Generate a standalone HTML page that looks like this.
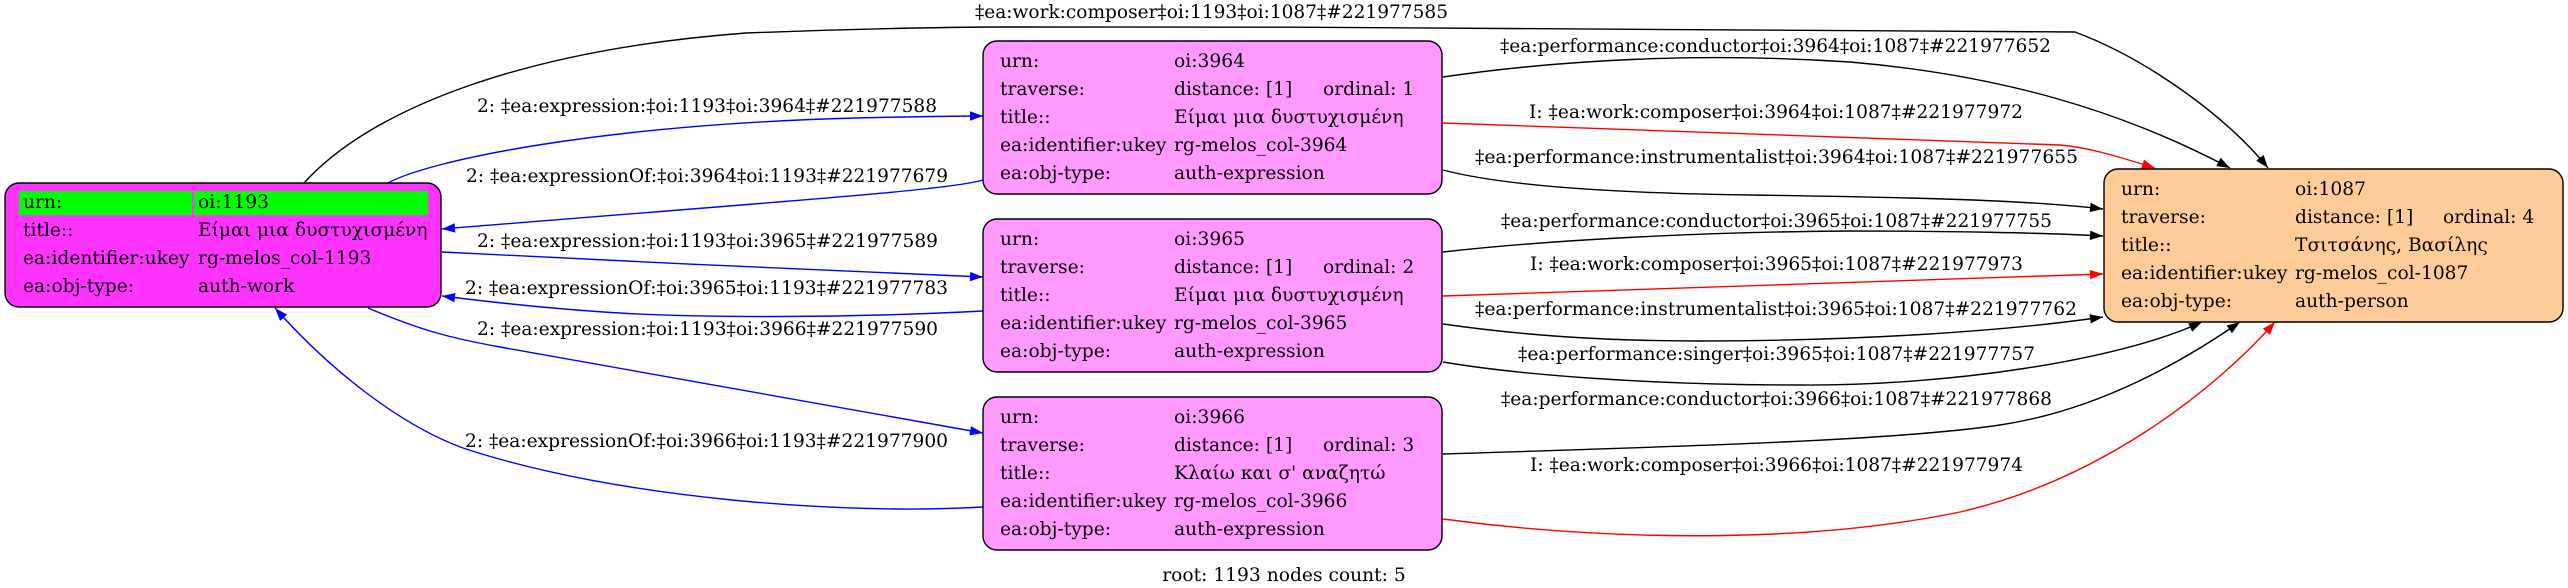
<!DOCTYPE html>
<html>
<head>
<meta charset="utf-8">
<style>
  html,body{margin:0;padding:0;background:#fff;}
  svg{display:block;}
  text{font-family:"DejaVu Serif","Liberation Serif",serif;font-size:18.67px;fill:#000;}
</style>
</head>
<body>
<svg width="2568" height="588" viewBox="0 0 2568 588" xmlns="http://www.w3.org/2000/svg">
  <defs>
    <marker id="ak" markerUnits="userSpaceOnUse" markerWidth="14" markerHeight="10" viewBox="0 0 13 10" refX="13" refY="5" orient="auto">
      <path d="M0,0.3 L13,5 L0,9.7 z" fill="#000"/>
    </marker>
    <marker id="ab" markerUnits="userSpaceOnUse" markerWidth="14" markerHeight="10" viewBox="0 0 13 10" refX="13" refY="5" orient="auto">
      <path d="M0,0.3 L13,5 L0,9.7 z" fill="#0000ff"/>
    </marker>
    <marker id="ar" markerUnits="userSpaceOnUse" markerWidth="14" markerHeight="10" viewBox="0 0 13 10" refX="13" refY="5" orient="auto">
      <path d="M0,0.3 L13,5 L0,9.7 z" fill="#ff0000"/>
    </marker>
  </defs>
  <rect width="2568" height="588" fill="#fff"/>

  <!-- Edges -->
  <g fill="none" stroke-width="1.4">
    <!-- composer 1193 -> 1087 -->
    <path d="M304,183 C370,110 520,50 746,33 C850,29 950,27 1000,27 C1400,27 1900,28 2075,32 C2150,60 2230,120 2268,168" stroke="#000" marker-end="url(#ak)"/>
    <!-- expression 1193 -> 3964 -->
    <path d="M388,183 C430,160 600,125 855,118 C900,117 950,116 983,116" stroke="#0000ff" marker-end="url(#ab)"/>
    <!-- expressionOf 3964 -> 1193 -->
    <path d="M983,180 C950,190 800,200 442,229" stroke="#0000ff" marker-end="url(#ab)"/>
    <!-- expression 1193 -> 3965 -->
    <path d="M442,252 C600,260 850,272 983,277" stroke="#0000ff" marker-end="url(#ab)"/>
    <!-- expressionOf 3965 -> 1193 -->
    <path d="M983,311 C850,318 700,318 620,313 C550,309 490,302 442,296" stroke="#0000ff" marker-end="url(#ab)"/>
    <!-- expression 1193 -> 3966 -->
    <path d="M368,308 C420,330 450,338 500,347 L983,433" stroke="#0000ff" marker-end="url(#ab)"/>
    <!-- expressionOf 3966 -> 1193 -->
    <path d="M983,507 C850,515 620,500 463,448 C400,425 330,370 275,308" stroke="#0000ff" marker-end="url(#ab)"/>

    <!-- 3964 -> 1087 -->
    <path d="M1443,77 C1560,60 1700,52 1850,62 C2000,75 2120,110 2230,168" stroke="#000" marker-end="url(#ak)"/>
    <path d="M1443,123 L2060,145 C2085,147 2110,154 2155,168" stroke="#ff0000" marker-end="url(#ar)"/>
    <path d="M1443,170 C1500,185 1600,193 1750,195 C1900,197 2030,200 2103,209" stroke="#000" marker-end="url(#ak)"/>
    <!-- 3965 -> 1087 -->
    <path d="M1443,252 C1550,240 1700,232 1850,231 C1950,231 2050,233 2103,236" stroke="#000" marker-end="url(#ak)"/>
    <path d="M1443,296 C1700,289 1950,280 2103,274" stroke="#ff0000" marker-end="url(#ar)"/>
    <path d="M1443,324 C1520,335 1600,341 1700,341 C1850,341 2000,332 2103,317" stroke="#000" marker-end="url(#ak)"/>
    <path d="M1443,362 C1520,375 1650,385 1800,385 C1950,386 2120,360 2202,322" stroke="#000" marker-end="url(#ak)"/>
    <!-- 3966 -> 1087 -->
    <path d="M1443,454 C1700,446 1900,440 2000,425 C2100,410 2185,360 2240,322" stroke="#000" marker-end="url(#ak)"/>
    <path d="M1443,519 C1600,540 1800,545 1960,512 C2100,480 2215,390 2275,322" stroke="#ff0000" marker-end="url(#ar)"/>
  </g>

  <!-- Edge labels -->
  <g lengthAdjust="spacingAndGlyphs">
    <text x="975" y="18" textLength="473" lengthAdjust="spacingAndGlyphs">‡ea:work:composer‡oi:1193‡oi:1087‡#221977585</text>
    <text x="477" y="112" textLength="460" lengthAdjust="spacingAndGlyphs">2: ‡ea:expression:‡oi:1193‡oi:3964‡#221977588</text>
    <text x="466" y="182" textLength="482" lengthAdjust="spacingAndGlyphs">2: ‡ea:expressionOf:‡oi:3964‡oi:1193‡#221977679</text>
    <text x="477" y="247" textLength="461" lengthAdjust="spacingAndGlyphs">2: ‡ea:expression:‡oi:1193‡oi:3965‡#221977589</text>
    <text x="465" y="294" textLength="483" lengthAdjust="spacingAndGlyphs">2: ‡ea:expressionOf:‡oi:3965‡oi:1193‡#221977783</text>
    <text x="477" y="335" textLength="461" lengthAdjust="spacingAndGlyphs">2: ‡ea:expression:‡oi:1193‡oi:3966‡#221977590</text>
    <text x="465" y="447" textLength="483" lengthAdjust="spacingAndGlyphs">2: ‡ea:expressionOf:‡oi:3966‡oi:1193‡#221977900</text>

    <text x="1500" y="52" textLength="551" lengthAdjust="spacingAndGlyphs">‡ea:performance:conductor‡oi:3964‡oi:1087‡#221977652</text>
    <text x="1529" y="118" textLength="494" lengthAdjust="spacingAndGlyphs">I: ‡ea:work:composer‡oi:3964‡oi:1087‡#221977972</text>
    <text x="1475" y="163" textLength="603" lengthAdjust="spacingAndGlyphs">‡ea:performance:instrumentalist‡oi:3964‡oi:1087‡#221977655</text>
    <text x="1501" y="227" textLength="551" lengthAdjust="spacingAndGlyphs">‡ea:performance:conductor‡oi:3965‡oi:1087‡#221977755</text>
    <text x="1530" y="270" textLength="493" lengthAdjust="spacingAndGlyphs">I: ‡ea:work:composer‡oi:3965‡oi:1087‡#221977973</text>
    <text x="1475" y="315" textLength="602" lengthAdjust="spacingAndGlyphs">‡ea:performance:instrumentalist‡oi:3965‡oi:1087‡#221977762</text>
    <text x="1518" y="360" textLength="517" lengthAdjust="spacingAndGlyphs">‡ea:performance:singer‡oi:3965‡oi:1087‡#221977757</text>
    <text x="1501" y="405" textLength="551" lengthAdjust="spacingAndGlyphs">‡ea:performance:conductor‡oi:3966‡oi:1087‡#221977868</text>
    <text x="1530" y="471" textLength="493" lengthAdjust="spacingAndGlyphs">I: ‡ea:work:composer‡oi:3966‡oi:1087‡#221977974</text>
  </g>

  <!-- Main node 1193 -->
  <rect x="5" y="183" width="436" height="124" rx="14" ry="14" fill="#ff33ff" stroke="#000" stroke-width="1.4"/>
  <rect x="19" y="191" width="173" height="24" fill="#00ff00"/>
  <rect x="194" y="191" width="234" height="24" fill="#00ff00"/>
  <text x="23" y="208">urn:</text><text x="198" y="208">oi:1193</text>
  <text x="23" y="236">title::</text><text x="198" y="236">Είμαι μια δυστυχισμένη</text>
  <text x="23" y="264">ea:identifier:ukey</text><text x="198" y="264">rg-melos_col-1193</text>
  <text x="23" y="292">ea:obj-type:</text><text x="198" y="292">auth-work</text>

  <!-- Node 3964 -->
  <rect x="983" y="41" width="459" height="153" rx="14" ry="14" fill="#ff99ff" stroke="#000" stroke-width="1.4"/>
  <text x="1000" y="67">urn:</text><text x="1174" y="67">oi:3964</text>
  <text x="1000" y="95">traverse:</text><text x="1174" y="95">distance: [1]</text><text x="1323" y="95">ordinal: 1</text>
  <text x="1000" y="123">title::</text><text x="1174" y="123">Είμαι μια δυστυχισμένη</text>
  <text x="1000" y="151">ea:identifier:ukey</text><text x="1174" y="151">rg-melos_col-3964</text>
  <text x="1000" y="179">ea:obj-type:</text><text x="1174" y="179">auth-expression</text>

  <!-- Node 3965 -->
  <rect x="983" y="219" width="459" height="153" rx="14" ry="14" fill="#ff99ff" stroke="#000" stroke-width="1.4"/>
  <text x="1000" y="245">urn:</text><text x="1174" y="245">oi:3965</text>
  <text x="1000" y="273">traverse:</text><text x="1174" y="273">distance: [1]</text><text x="1323" y="273">ordinal: 2</text>
  <text x="1000" y="301">title::</text><text x="1174" y="301">Είμαι μια δυστυχισμένη</text>
  <text x="1000" y="329">ea:identifier:ukey</text><text x="1174" y="329">rg-melos_col-3965</text>
  <text x="1000" y="357">ea:obj-type:</text><text x="1174" y="357">auth-expression</text>

  <!-- Node 3966 -->
  <rect x="983" y="397" width="459" height="153" rx="14" ry="14" fill="#ff99ff" stroke="#000" stroke-width="1.4"/>
  <text x="1000" y="423">urn:</text><text x="1174" y="423">oi:3966</text>
  <text x="1000" y="451">traverse:</text><text x="1174" y="451">distance: [1]</text><text x="1323" y="451">ordinal: 3</text>
  <text x="1000" y="479">title::</text><text x="1174" y="479">Κλαίω και σ' αναζητώ</text>
  <text x="1000" y="507">ea:identifier:ukey</text><text x="1174" y="507">rg-melos_col-3966</text>
  <text x="1000" y="535">ea:obj-type:</text><text x="1174" y="535">auth-expression</text>

  <!-- Node 1087 -->
  <rect x="2104" y="169" width="459" height="153" rx="14" ry="14" fill="#ffcc99" stroke="#000" stroke-width="1.4"/>
  <text x="2121" y="195">urn:</text><text x="2295" y="195">oi:1087</text>
  <text x="2121" y="223">traverse:</text><text x="2295" y="223">distance: [1]</text><text x="2443" y="223">ordinal: 4</text>
  <text x="2121" y="251">title::</text><text x="2295" y="251">Τσιτσάνης, Βασίλης</text>
  <text x="2121" y="279">ea:identifier:ukey</text><text x="2295" y="279">rg-melos_col-1087</text>
  <text x="2121" y="307">ea:obj-type:</text><text x="2295" y="307">auth-person</text>

  <!-- Graph label -->
  <text x="1284" y="581" text-anchor="middle">root: 1193 nodes count: 5</text>
</svg>
</body>
</html>
